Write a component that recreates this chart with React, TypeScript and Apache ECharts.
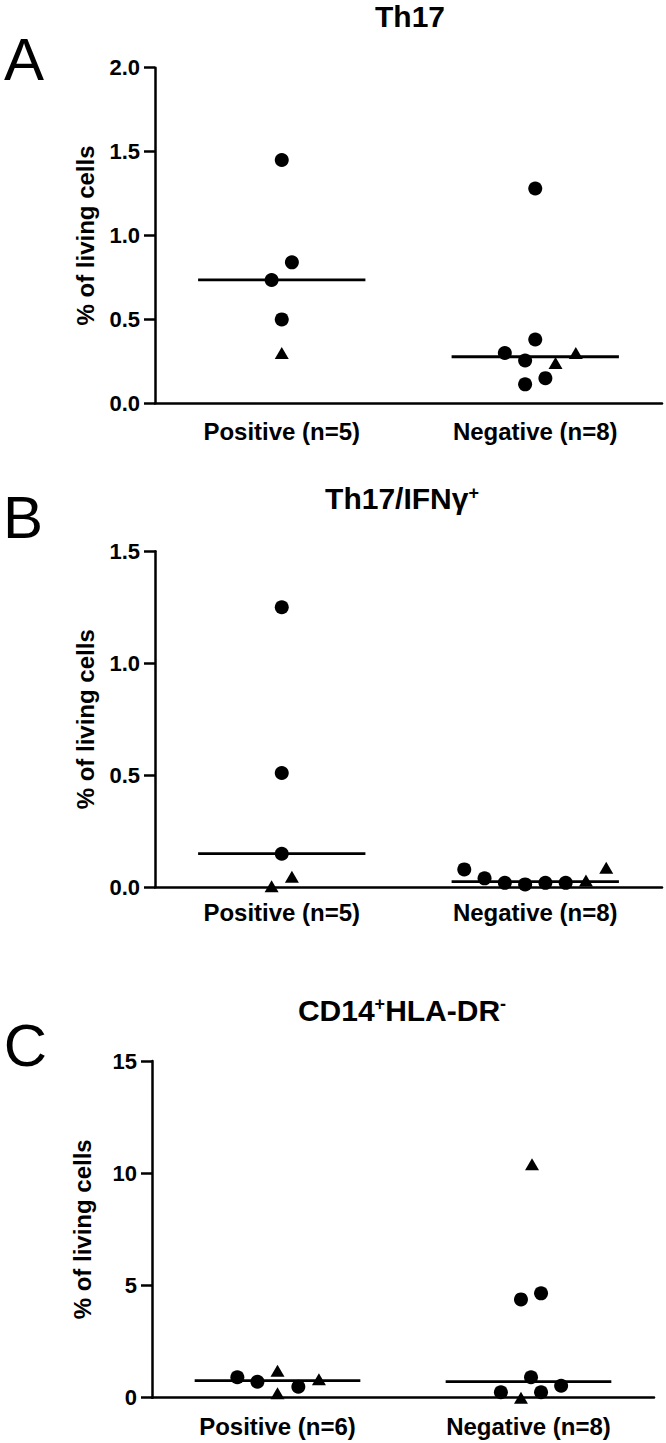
import React, { useEffect, useRef } from "react";
import * as echarts from "echarts";

const FONT = "'Liberation Sans', Arial, Helvetica, sans-serif";

// ---- texts ----
const panelLetters = ["A", "B", "C"];
const panelTitles = ["Th17", "Th17/IFNγ{sup|+}", "CD14{sup|+}HLA-DR{sup|-}"];
const yAxisTitle = "% of living cells";
const xCategoriesA = ["Positive (n=5)", "Negative (n=8)"];
const xCategoriesB = ["Positive (n=5)", "Negative (n=8)"];
const xCategoriesC = ["Positive (n=6)", "Negative (n=8)"];

// ---- y-axis scales ----
const yMaxes = [2, 1.5, 15];
const yIntervals = [0.5, 0.5, 5];
const yDecimals = [1, 1, 0];

// ---- Panel A: Th17 ----
const aPosCircles = [1.45, 0.84, 0.735, 0.5];
const aPosCircleJitter = [0, 0.04, -0.04, 0];
const aPosTriangles = [0.3];
const aPosTriangleJitter = [0];
const aNegCircles = [1.28, 0.38, 0.3, 0.255, 0.15, 0.113];
const aNegCircleJitter = [0, 0, -0.12, -0.04, 0.04, -0.04];
const aNegTriangles = [0.24, 0.3];
const aNegTriangleJitter = [0.08, 0.16];

// ---- Panel B: Th17/IFNγ+ ----
const bPosCircles = [1.25, 0.51, 0.15];
const bPosCircleJitter = [0, 0, 0];
const bPosTriangles = [0.005, 0.047];
const bPosTriangleJitter = [-0.04, 0.04];
const bNegCircles = [0.08, 0.04, 0.02, 0.013, 0.02, 0.02];
const bNegCircleJitter = [-0.28, -0.2, -0.12, -0.04, 0.04, 0.12];
const bNegTriangles = [0.03, 0.087];
const bNegTriangleJitter = [0.2, 0.28];

// ---- Panel C: CD14+HLA-DR- ----
const cPosCircles = [0.91, 0.71, 0.49];
const cPosCircleJitter = [-0.16, -0.08, 0.083];
const cPosTriangles = [1.2, 0.2, 0.82];
const cPosTriangleJitter = [0, 0, 0.165];
const cNegCircles = [4.38, 4.65, 0.91, 0.53, 0.24, 0.24];
const cNegCircleJitter = [-0.03, 0.05, 0.01, 0.13, -0.11, 0.05];
const cNegTriangles = [10.4, 0];
const cNegTriangleJitter = [0.014, -0.03];

const MEDIAN_HALF = 0.33;

function median(arr: number[]) {
  const s = [...arr].sort((a, b) => a - b);
  const m = Math.floor(s.length / 2);
  return s.length % 2 ? s[m] : (s[m - 1] + s[m]) / 2;
}

const panels = [
  {
    cats: xCategoriesA,
    groups: [
      { circles: aPosCircles, cj: aPosCircleJitter, triangles: aPosTriangles, tj: aPosTriangleJitter },
      { circles: aNegCircles, cj: aNegCircleJitter, triangles: aNegTriangles, tj: aNegTriangleJitter },
    ],
  },
  {
    cats: xCategoriesB,
    groups: [
      { circles: bPosCircles, cj: bPosCircleJitter, triangles: bPosTriangles, tj: bPosTriangleJitter },
      { circles: bNegCircles, cj: bNegCircleJitter, triangles: bNegTriangles, tj: bNegTriangleJitter },
    ],
  },
  {
    cats: xCategoriesC,
    groups: [
      { circles: cPosCircles, cj: cPosCircleJitter, triangles: cPosTriangles, tj: cPosTriangleJitter },
      { circles: cNegCircles, cj: cNegCircleJitter, triangles: cNegTriangles, tj: cNegTriangleJitter },
    ],
  },
];

// layout (pixels)
const grids = [
  { left: 155, top: 67.7, width: 507, height: 335.6 },
  { left: 155, top: 551.3, width: 507, height: 336 },
  { left: 152, top: 1061, width: 502, height: 336.7 },
];
const xLabelMargins = [16, 13, 17];
const letterPos = [
  [24, 59],
  [23, 517.5],
  [25.5, 1045],
];
const titlePos = [
  [410, 16],
  [402, 498.5],
  [402, 1010],
];

export default function App() {
  const ref = useRef<HTMLDivElement>(null);
  useEffect(() => {
    if (!ref.current) return;
    const chart = echarts.init(ref.current, null, { renderer: "svg" });

    const xAxis: any[] = [];
    const yAxis: any[] = [];
    const series: any[] = [];

    panels.forEach((p, pi) => {
      xAxis.push({
        type: "value",
        gridIndex: pi,
        min: 0,
        max: 2,
        interval: 0.5,
        axisLine: { show: true, onZero: false, lineStyle: { color: "#000", width: 2.5 } },
        axisTick: { show: false },
        splitLine: { show: false },
        axisLabel: {
          margin: xLabelMargins[pi],
          color: "#000",
          fontFamily: FONT,
          fontWeight: "bold",
          fontSize: 24,
          formatter: (v: number) =>
            Math.abs(v - 0.5) < 1e-6 ? p.cats[0] : Math.abs(v - 1.5) < 1e-6 ? p.cats[1] : "",
        },
      });
      yAxis.push({
        type: "value",
        gridIndex: pi,
        min: 0,
        max: yMaxes[pi],
        interval: yIntervals[pi],
        axisLine: { show: true, lineStyle: { color: "#000", width: 2.5 } },
        axisTick: { show: true, length: 11, lineStyle: { color: "#000", width: 2.5 } },
        splitLine: { show: false },
        axisLabel: {
          margin: 15,
          color: "#000",
          fontFamily: FONT,
          fontWeight: "bold",
          fontSize: 22,
          formatter: (v: number) => v.toFixed(yDecimals[pi]),
        },
        name: yAxisTitle,
        nameLocation: "middle",
        nameGap: 58,
        nameTextStyle: { color: "#000", fontFamily: FONT, fontWeight: "bold", fontSize: 24 },
      });

      p.groups.forEach((g, gi) => {
        const center = gi + 0.5;
        series.push({
          type: "scatter",
          xAxisIndex: pi,
          yAxisIndex: pi,
          symbol: "circle",
          symbolSize: 14,
          itemStyle: { color: "#000", opacity: 1 },
          silent: true,
          data: g.circles.map((v, i) => [center + g.cj[i], v]),
        });
        series.push({
          type: "scatter",
          xAxisIndex: pi,
          yAxisIndex: pi,
          symbol: "triangle",
          symbolSize: [14, 12],
          itemStyle: { color: "#000", opacity: 1 },
          silent: true,
          data: g.triangles.map((v, i) => [center + g.tj[i], v]),
        });
        const med = median([...g.circles, ...g.triangles]);
        series.push({
          type: "line",
          xAxisIndex: pi,
          yAxisIndex: pi,
          symbol: "none",
          silent: true,
          lineStyle: { color: "#000", width: 2.8, opacity: 1 },
          data: [
            [center - MEDIAN_HALF, med],
            [center + MEDIAN_HALF, med],
          ],
        });
      });
    });

    const graphic: any[] = [];
    panelLetters.forEach((l, i) => {
      graphic.push({
        type: "text",
        x: letterPos[i][0],
        y: letterPos[i][1],
        style: {
          text: l,
          fontSize: 60,
          fontFamily: FONT,
          fill: "#000",
          align: "center",
          verticalAlign: "middle",
        },
      });
    });
    panelTitles.forEach((t, i) => {
      graphic.push({
        type: "text",
        x: titlePos[i][0],
        y: titlePos[i][1],
        style: {
          text: t,
          fontSize: 30,
          fontWeight: "bold",
          fontFamily: FONT,
          fill: "#000",
          align: "center",
          verticalAlign: "middle",
          rich: {
            sup: {
              fontSize: 18,
              fontWeight: "bold",
              fontFamily: FONT,
              fill: "#000",
              verticalAlign: "top",
            },
          },
        },
      });
    });

    chart.setOption({
      animation: false,
      backgroundColor: "#fff",
      grid: grids.map((g) => ({ ...g, containLabel: false })),
      xAxis,
      yAxis,
      series,
      graphic,
    });

    return () => chart.dispose();
  }, []);

  return (
    <div
      ref={ref}
      style={{ position: "absolute", left: 0, top: 0, width: 666, height: 1443, background: "#fff" }}
    />
  );
}
